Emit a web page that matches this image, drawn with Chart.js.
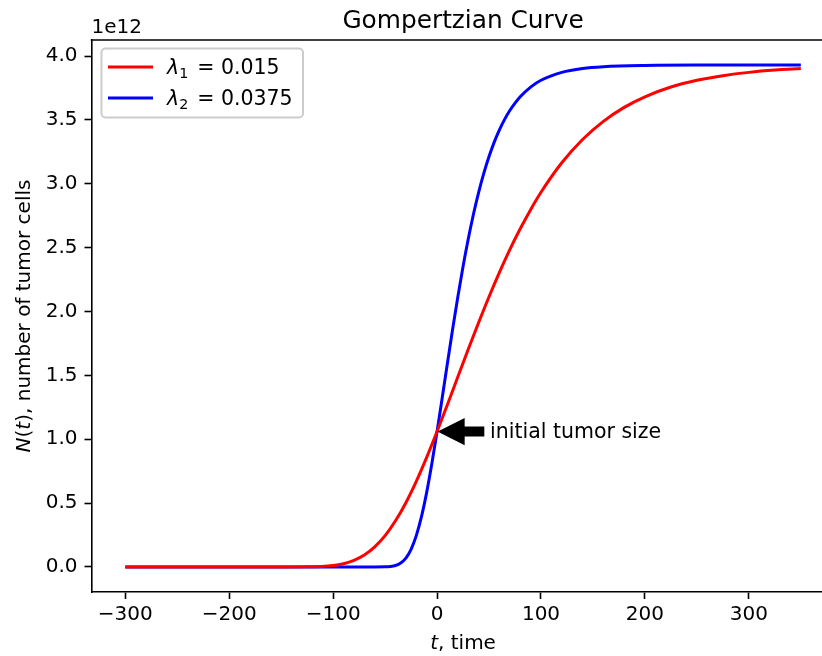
<!DOCTYPE html>
<html>
<head>
<meta charset="utf-8">
<script src="https://cdn.jsdelivr.net/npm/chart.js@4/dist/chart.umd.min.js"></script>
<style>
  html, body { margin: 0; padding: 0; background: #ffffff; overflow: hidden; }
  #wrap { width: 850px; height: 656px; }
</style>
</head>
<body>
<div id="wrap"><canvas id="c" width="850" height="656"></canvas></div>
<script>
// ---- Data (N in units of 1e12 tumor cells) ----
const tRed  = [-300,-250,-200,-150,-125,-100,-90,-80,-70,-60,-50,-40,-30,-20,-10,0,10,20,30,40,50,60,70,80,90,100,120,140,160,180,200,225,250,275,300,325,350];
const nRed  = [0,0,0,0.00002,0.0008,0.011,0.025,0.051,0.093,0.157,0.245,0.361,0.503,0.670,0.858,1.06,1.272,1.489,1.704,1.914,2.116,2.307,2.485,2.648,2.798,2.934,3.165,3.347,3.489,3.599,3.682,3.758,3.811,3.847,3.873,3.891,3.903];
const tBlue = [-300,-250,-200,-150,-100,-60,-50,-45,-40,-35,-30,-25,-20,-15,-10,-5,0,5,10,15,20,25,30,35,40,45,50,55,60,65,70,75,80,90,100,120,140,160,200,250,300,350];
const nBlue = [0,0,0,0,0,0.00002,0.0008,0.0033,0.011,0.030,0.069,0.138,0.245,0.394,0.584,0.809,1.06,1.326,1.597,1.863,2.116,2.353,2.568,2.762,2.934,3.084,3.214,3.327,3.423,3.505,3.574,3.632,3.682,3.758,3.811,3.873,3.903,3.917,3.927,3.930,3.930,3.930];
const xTicks = [-300,-200,-100,0,100,200,300];
const yTicks = [0,0.5,1.0,1.5,2.0,2.5,3.0,3.5,4.0];
const lambdaSubs   = ['1','2'];
const lambdaValues = ['0.015','0.0375'];
const seriesLabels = lambdaSubs.map((s,i)=>'λ' + s + ' = ' + lambdaValues[i]);
const offsetText = '1e12';
const titleText = 'Gompertzian Curve';
const annotPoint = {t: 0, n: 1.06};
const annotTextAt = {t: 50, n: 1.06};
const annotLabel = 'initial tumor size';

const FONT = '"DejaVu Sans", sans-serif';
const colors = ['#ff0000', '#0000ff'];

function toPts(xs, ys){ return xs.map((x,i)=>({x:x, y:ys[i]})); }

function drawParts(ctx, parts, x, y, align){
  let total = 0;
  const widths = parts.map(p=>{
    ctx.font = (p.italic?'italic ':'') + (p.size||20) + 'px ' + FONT;
    const w = ctx.measureText(p.t).width + (p.after||0); total += w; return w;
  });
  let cx = align === 'center' ? x - total/2 : x;
  parts.forEach((p,i)=>{
    ctx.font = (p.italic?'italic ':'') + (p.size||20) + 'px ' + FONT;
    ctx.fillText(p.t, cx, y + (p.dy||0));
    cx += widths[i];
  });
}

const decor = {
  id: 'decor',
  afterDraw(chart){
    const ctx = chart.ctx;
    const a = chart.chartArea;
    const xs = chart.scales.x, ys = chart.scales.y;
    ctx.save();
    ctx.strokeStyle = '#000'; ctx.lineWidth = 1.6;
    ctx.beginPath(); ctx.moveTo(a.left - 0.8, a.top); ctx.lineTo(chart.width, a.top); ctx.stroke();
    ctx.fillStyle = '#000';
    ctx.textBaseline = 'alphabetic';
    ctx.textAlign = 'left';
    drawParts(ctx, [{t: titleText, size: 24.8}], (a.left + a.right)/2, 27.5, 'center');
    drawParts(ctx, [{t: offsetText}], a.left, 33, 'left');
    drawParts(ctx, [{t:'t', italic:true}, {t:', time'}], (a.left + a.right)/2, 649, 'center');
    ctx.save();
    ctx.translate(30, (a.top + a.bottom)/2);
    ctx.rotate(-Math.PI/2);
    drawParts(ctx, [{t:'N', italic:true},{t:'('},{t:'t', italic:true},{t:')'},{t:', number of tumor cells'}], 0, 0, 'center');
    ctx.restore();

    // legend
    const lx = 101.5, ly = 48.5, lw = 201.5, lh = 69;
    ctx.beginPath();
    ctx.roundRect(lx, ly, lw, lh, 4);
    ctx.fillStyle = 'rgba(255,255,255,0.8)'; ctx.fill();
    ctx.strokeStyle = '#cccccc'; ctx.lineWidth = 2; ctx.stroke();
    chart.data.datasets.forEach((ds, i)=>{
      const yy = 67 + i*31;
      ctx.strokeStyle = ds.borderColor; ctx.lineWidth = 3;
      ctx.beginPath(); ctx.moveTo(108, yy); ctx.lineTo(153, yy); ctx.stroke();
      ctx.fillStyle = '#000';
      drawParts(ctx, [{t:'λ', italic:true, size:20.5},{t:lambdaSubs[i], size:14.3, dy:3.5, after:2.5},{t:' = ' + lambdaValues[i], size:20.5}], 167, yy + 7, 'left');
    });

    // annotation arrow
    const px = xs.getPixelForValue(annotPoint.t), py = ys.getPixelForValue(annotPoint.n);
    const tx = xs.getPixelForValue(annotTextAt.t), ty = ys.getPixelForValue(annotTextAt.n);
    const len = tx - px;
    const tip = px + 0.05*len, tail = tx - 0.11*len;
    const hl = 24, hw = 12, sw = 4;
    ctx.beginPath();
    ctx.moveTo(tip, py);
    ctx.lineTo(tip + hl, py - hw);
    ctx.lineTo(tip + hl, py - sw);
    ctx.lineTo(tail, py - sw);
    ctx.lineTo(tail, py + sw);
    ctx.lineTo(tip + hl, py + sw);
    ctx.lineTo(tip + hl, py + hw);
    ctx.closePath();
    ctx.fillStyle = '#000'; ctx.fill();
    ctx.strokeStyle = '#000'; ctx.lineWidth = 2; ctx.lineJoin = 'miter'; ctx.stroke();
    ctx.fillStyle = '#000';
    drawParts(ctx, [{t: annotLabel, size: 20.5}], tx + 1, ty + 6, 'left');
    ctx.restore();
  }
};

new Chart(document.getElementById('c'), {
  type: 'line',
  data: {
    datasets: [
      { label: seriesLabels[0], data: toPts(tRed, nRed), borderColor: colors[0], backgroundColor: colors[0], borderWidth: 3, pointRadius: 0, fill: false, cubicInterpolationMode: 'monotone' },
      { label: seriesLabels[1], data: toPts(tBlue, nBlue), borderColor: colors[1], backgroundColor: colors[1], borderWidth: 3, pointRadius: 0, fill: false, cubicInterpolationMode: 'monotone' }
    ]
  },
  options: {
    responsive: false,
    animation: false,
    layout: { padding: { left: 0, right: 850 - 834.6, top: 40, bottom: 0 } },
    plugins: { legend: { display: false }, tooltip: { enabled: false }, title: { display: false } },
    scales: {
      x: {
        type: 'linear', min: -332.5, max: 382.5,
        afterBuildTicks: s => { s.ticks = xTicks.map(v=>({value:v})); },
        afterFit: s => { s.height = 64; },
        ticks: { color: '#000', font: { family: 'DejaVu Sans', size: 20 }, padding: 4, maxRotation: 0, autoSkip: false,
                 callback: v => v < 0 ? '\u2212' + Math.abs(v) : String(v) },
        grid: { drawOnChartArea: false, drawTicks: true, tickLength: 7, tickColor: '#000', tickWidth: 1.6 },
        border: { display: true, color: '#000', width: 1.6 }
      },
      y: {
        type: 'linear', min: -0.1965, max: 4.1265,
        afterBuildTicks: s => { s.ticks = yTicks.map(v=>({value:v})); },
        afterFit: s => { s.width = 91.5; },
        ticks: { color: '#000', font: { family: 'DejaVu Sans', size: 20 }, padding: 7, autoSkip: false,
                 callback: v => Number(v).toFixed(1) },
        grid: { drawOnChartArea: false, drawTicks: true, tickLength: 7, tickColor: '#000', tickWidth: 1.6 },
        border: { display: true, color: '#000', width: 1.6 }
      }
    }
  },
  plugins: [decor]
});
</script>
</body>
</html>
